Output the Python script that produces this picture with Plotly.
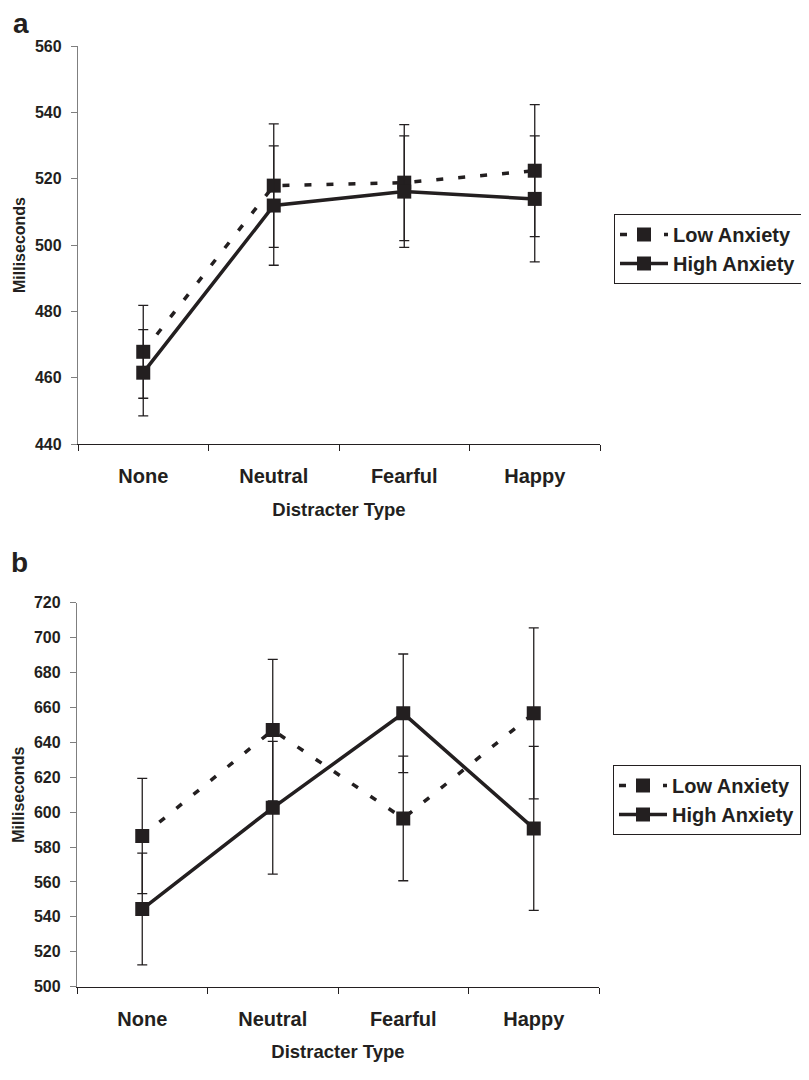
import plotly.graph_objects as go

categories = ["None", "Neutral", "Fearful", "Happy"]

a_low = [467.8, 517.9, 518.8, 522.4]
a_low_err = [14.0, 18.6, 17.5, 19.9]
a_high = [461.5, 511.9, 516.1, 513.9]
a_high_err = [13.0, 18.0, 16.8, 19.0]

b_low = [586.3, 647.0, 596.4, 656.6]
b_low_err = [33.0, 40.5, 35.7, 49.0]
b_high = [544.5, 602.5, 656.6, 590.7]
b_high_err = [32.0, 38.0, 34.0, 47.0]

series_names = ["Low Anxiety", "High Anxiety"]
y_ticks_a = [440, 460, 480, 500, 520, 540, 560]
y_ticks_b = [500, 520, 540, 560, 580, 600, 620, 640, 660, 680, 700, 720]

INK = "#231f20"
GRAY = "#7f7f7f"
FONT = "Liberation Sans, Arial, sans-serif"
W, H = 809, 1080
OFF = 8  # default page body margin

fig = go.Figure()


def add_pair(low, low_err, high, high_err, xa, ya, legend):
    fig.add_trace(go.Scatter(
        x=categories, y=low, name=series_names[0], mode="lines+markers",
        line=dict(color=INK, width=3.5, dash="7px,15px"),
        marker=dict(symbol="square", size=14, color=INK),
        error_y=dict(type="data", array=low_err, visible=True,
                     color=INK, thickness=1.3, width=5),
        xaxis=xa, yaxis=ya, legend=legend))
    fig.add_trace(go.Scatter(
        x=categories, y=high, name=series_names[1], mode="lines+markers",
        line=dict(color=INK, width=3.5),
        marker=dict(symbol="square", size=14, color=INK),
        error_y=dict(type="data", array=high_err, visible=True,
                     color=INK, thickness=1.3, width=5),
        xaxis=xa, yaxis=ya, legend=legend))


add_pair(a_low, a_low_err, a_high, a_high_err, "x", "y", "legend")
add_pair(b_low, b_low_err, b_high, b_high_err, "x2", "y2", "legend2")


def px_x(p):
    return (p - OFF) / W


def px_y(p):
    return 1 - (p - OFF) / H


xaxis_common = dict(
    type="category", categoryorder="array", categoryarray=categories,
    range=[-0.5, 3.5], showline=True, linecolor=INK, linewidth=1.3,
    ticks="outside", tickson="boundaries", ticklen=6, tickcolor=INK,
    tickwidth=1.3, showgrid=False, zeroline=False, automargin=False,
    ticklabelstandoff=14,
    tickfont=dict(family=FONT, size=20, color=INK, weight="bold"),
    title=dict(text="Distracter Type", standoff=16,
               font=dict(family=FONT, size=18.5, color=INK, weight="bold")),
)
yaxis_common = dict(
    showline=True, linecolor=GRAY, linewidth=1.3, ticks="outside",
    ticklen=6, tickcolor=GRAY, tickwidth=1.3, showgrid=False, zeroline=False,
    dtick=20, automargin=False, ticklabelstandoff=6,
    tickfont=dict(family=FONT, size=16, color=INK, weight="bold"),
    title=dict(text="Milliseconds", standoff=5,
               font=dict(family=FONT, size=16, color=INK, weight="bold")),
)

legend_common = dict(
    xanchor="left", yanchor="top", bordercolor=INK, borderwidth=1,
    bgcolor="white", tracegroupgap=0, itemwidth=48,
    entrywidth=160, entrywidthmode="pixels",
    font=dict(family=FONT, size=20, color=INK, weight="bold"),
)

fig.update_layout(
    width=W, height=H,
    margin=dict(l=0, r=0, t=0, b=0, autoexpand=False),
    paper_bgcolor="white", plot_bgcolor="white",
    font=dict(family=FONT, color=INK),
    xaxis=dict(domain=[px_x(78), px_x(600)], anchor="y", **xaxis_common),
    yaxis=dict(domain=[px_y(444), px_y(46)], anchor="x", range=[440, 560],
               tickvals=y_ticks_a, **yaxis_common),
    xaxis2=dict(domain=[px_x(77), px_x(599)], anchor="y2", **xaxis_common),
    yaxis2=dict(domain=[px_y(986.7), px_y(602.7)], anchor="x2",
                range=[500, 720], tickvals=y_ticks_b, **yaxis_common),
    legend=dict(x=px_x(614), y=px_y(214), **legend_common),
    legend2=dict(x=px_x(613), y=px_y(765), **legend_common),
    showlegend=True,
)

fig.add_annotation(text="a", x=px_x(11), y=px_y(6), xref="paper", yref="paper",
                   xanchor="left", yanchor="top", showarrow=False,
                   font=dict(family=FONT, size=28, color=INK, weight="bold"))
fig.add_annotation(text="b", x=px_x(9), y=px_y(545), xref="paper", yref="paper",
                   xanchor="left", yanchor="top", showarrow=False,
                   font=dict(family=FONT, size=28, color=INK, weight="bold"))

fig.write_html("out.html")
